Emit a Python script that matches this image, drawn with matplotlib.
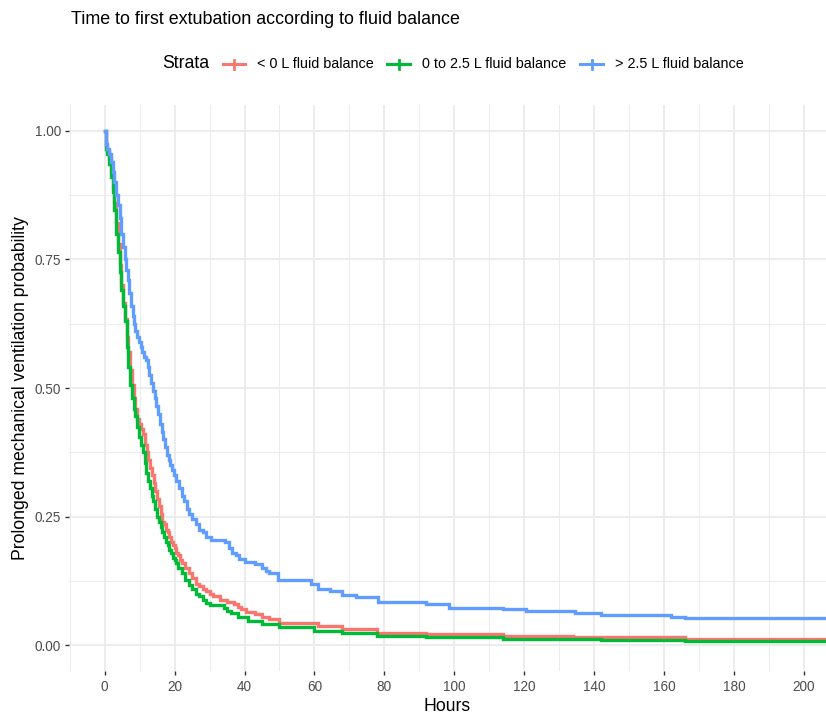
import matplotlib
matplotlib.use("Agg")
import matplotlib.pyplot as plt
from matplotlib.lines import Line2D
from matplotlib.ticker import MultipleLocator

plt.rcParams['font.family'] = ['Liberation Sans', 'DejaVu Sans']

# ---- data ----
strata_labels = ["< 0 L fluid balance", "0 to 2.5 L fluid balance", "> 2.5 L fluid balance"]
colors = ["#F8766D", "#00BA38", "#619CFF"]

red_t = [0, 0.3, 0.8, 1.3, 1.8, 2.3, 2.8, 3.3, 3.8, 4.3, 4.8, 5.3, 5.8, 6.3, 6.8, 7.3, 7.8, 8.3,
         8.8, 9.3, 9.8, 10.5, 11, 11.5, 12, 12.5, 13, 13.5, 14, 14.5, 15, 15.5, 16, 16.5, 17, 17.5,
         18, 18.5, 19, 19.5, 20, 20.5, 21, 21.5, 22, 23, 24, 25, 26, 27, 28, 29, 30, 31, 33, 35,
         37, 38, 39, 40.5, 43, 45, 47, 50, 61, 68, 78, 92, 114, 134, 166, 207]
red_s = [1.0, 0.97, 0.96, 0.945, 0.92, 0.89, 0.86, 0.82, 0.78, 0.74, 0.70, 0.665, 0.635, 0.60, 0.57,
         0.535, 0.505, 0.48, 0.46, 0.44, 0.43, 0.42, 0.41, 0.39, 0.375, 0.36, 0.345, 0.33, 0.315, 0.30,
         0.285, 0.27, 0.255, 0.24, 0.235, 0.225, 0.22, 0.21, 0.20, 0.195, 0.19, 0.18, 0.175, 0.165,
         0.16, 0.15, 0.14, 0.13, 0.12, 0.115, 0.11, 0.105, 0.10, 0.095, 0.088, 0.085, 0.08, 0.075,
         0.07, 0.065, 0.06, 0.055, 0.052, 0.043, 0.037, 0.031, 0.024, 0.022, 0.018, 0.016, 0.013,
         0.013]

green_t = [0, 0.3, 0.8, 1.3, 1.8, 2.3, 2.8, 3.3, 3.8, 4.3, 4.8, 5.3, 5.8, 6.3, 6.8, 7.3, 7.8, 8.3,
           8.8, 9.3, 9.8, 10.3, 10.9, 11.4, 11.9, 12.4, 12.9, 13.4, 13.9, 14.4, 15, 15.5, 16, 16.5,
           17, 17.5, 18, 18.5, 19, 19.5, 20, 20.5, 21, 22, 23, 24, 25, 26, 27, 28, 29, 30, 34, 35,
           36, 38, 41, 45, 50, 60, 68, 78, 92, 114, 142, 166, 207]
green_s = [1.0, 0.965, 0.955, 0.935, 0.91, 0.88, 0.845, 0.80, 0.765, 0.725, 0.69, 0.66, 0.63, 0.58,
           0.54, 0.505, 0.48, 0.46, 0.445, 0.425, 0.405, 0.39, 0.375, 0.355, 0.335, 0.32, 0.305, 0.29,
           0.28, 0.265, 0.25, 0.24, 0.23, 0.22, 0.21, 0.20, 0.195, 0.185, 0.18, 0.17, 0.165, 0.16,
           0.15, 0.14, 0.127, 0.117, 0.11, 0.10, 0.095, 0.088, 0.082, 0.078, 0.072, 0.067, 0.062,
           0.055, 0.047, 0.041, 0.035, 0.028, 0.023, 0.0175, 0.016, 0.012, 0.010, 0.008, 0.008]

blue_t = [0, 0.3, 0.8, 1.3, 1.8, 2.3, 2.8, 3.3, 3.8, 4.3, 4.8, 5.3, 5.7, 6.2, 6.6, 7.1, 7.6, 8.0,
          8.3, 8.8, 9.3, 9.8, 10.3, 10.8, 11.3, 11.8, 12.3, 12.8, 13.3, 13.8, 14.3, 14.8, 15.3, 15.8,
          16.3, 16.8, 17.3, 17.8, 18.3, 18.8, 19.3, 19.8, 20.5, 21.2, 22, 22.7, 23.5, 24.2, 25, 26,
          27, 28, 29, 30.5, 34.5, 35.5, 36.5, 37.5, 38.5, 40, 43, 45, 46, 47, 49.7, 59, 61, 64.5, 68,
          72, 78.3, 92, 98.5, 114, 120.5, 134.5, 142, 162, 166, 207]
blue_s = [1.0, 0.975, 0.965, 0.955, 0.94, 0.92, 0.90, 0.875, 0.855, 0.83, 0.80, 0.775, 0.75, 0.73,
          0.71, 0.685, 0.66, 0.64, 0.625, 0.61, 0.60, 0.59, 0.58, 0.57, 0.56, 0.555, 0.54, 0.525, 0.51,
          0.495, 0.48, 0.465, 0.45, 0.43, 0.415, 0.40, 0.385, 0.37, 0.36, 0.35, 0.34, 0.33, 0.32,
          0.305, 0.29, 0.28, 0.265, 0.255, 0.245, 0.235, 0.225, 0.22, 0.21, 0.205, 0.20, 0.19, 0.18,
          0.175, 0.168, 0.162, 0.157, 0.15, 0.145, 0.14, 0.127, 0.12, 0.109, 0.105, 0.097, 0.093,
          0.084, 0.080, 0.073, 0.070, 0.066, 0.063, 0.059, 0.055, 0.0525, 0.0525]

x_ticks = [0, 20, 40, 60, 80, 100, 120, 140, 160, 180, 200]
y_ticks = [0.00, 0.25, 0.50, 0.75, 1.00]
y_ticklabels = ["0.00", "0.25", "0.50", "0.75", "1.00"]

W, H = 826, 717
fig = plt.figure(figsize=(W / 100, H / 100), dpi=100)
fig.patch.set_facecolor("white")

ax = fig.add_axes([69 / W, 1 - 671 / H, 1 - 69 / W, (671 - 105) / H])
ax.set_facecolor("white")

series = [(red_t, red_s), (green_t, green_s), (blue_t, blue_s)]
for (t, s), c in zip(series, colors):
    ax.step(t, s, where="post", color=c, lw=2.4, solid_joinstyle="miter", zorder=3)

ax.set_xlim(-10.2, 206.3)
ax.set_ylim(-0.05, 1.05)
ax.set_xticks(x_ticks)
ax.set_yticks(y_ticks)
ax.set_yticklabels(y_ticklabels)
ax.xaxis.set_minor_locator(MultipleLocator(10))
ax.yaxis.set_minor_locator(MultipleLocator(0.125))
ax.grid(which="major", color="#EBEBEB", lw=1.3, zorder=0)
ax.grid(which="minor", color="#EBEBEB", lw=0.65, zorder=0)
ax.set_axisbelow(True)
for sp in ax.spines.values():
    sp.set_visible(False)
ax.tick_params(which="major", length=3.2, width=1.0, color="#333333",
               labelcolor="#4D4D4D", labelsize=9.8, pad=2.5)
ax.tick_params(axis="x", which="major", pad=3.5)
ax.tick_params(which="minor", length=0)

ax.set_xlabel("Hours", fontsize=12.7, color="black", labelpad=2.5)
ax.set_ylabel("Prolonged mechanical ventilation probability", fontsize=12.7, color="black", labelpad=4)

fig.text(71 / W, 1 - 20 / H, "Time to first extubation according to fluid balance",
         fontsize=12.9, ha="left", va="center", color="black")

# legend (manual, ggplot-style at top)
ly = 1 - 64 / H
fig.text(162 / W, ly, "Strata", fontsize=12.7, ha="left", va="center", color="black")
keys = [(223, 245, 257), (387, 410, 422), (580, 603, 615)]
for (x0, x1, xt), c, lab in zip(keys, colors, strata_labels):
    fig.add_artist(Line2D([x0 / W, x1 / W], [ly, ly], color=c, lw=2.2, transform=fig.transFigure))
    xm = (x0 + x1) / 2
    fig.add_artist(Line2D([xm / W, xm / W], [ly - 4.5 / H, ly + 4.5 / H], color=c, lw=2.0,
                          transform=fig.transFigure))
    fig.text(xt / W, ly, lab, fontsize=10.4, ha="left", va="center", color="black")

fig.savefig("out.png", dpi=100, facecolor="white")
